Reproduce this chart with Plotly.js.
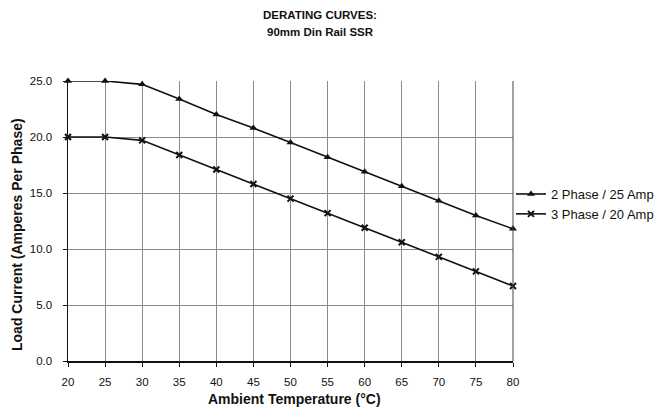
<!DOCTYPE html>
<html>
<head>
<meta charset="utf-8">
<script src="https://cdn.plot.ly/plotly-3.0.1.min.js"></script>
<style>html,body{margin:0;padding:0;background:#fff}#chart{width:672px;height:410px}</style>
</head>
<body>
<div id="chart"></div>
<script>
const temperatures = [20, 25, 30, 35, 40, 45, 50, 55, 60, 65, 70, 75, 80];
const phase2Amp25 = [25.0, 25.0, 24.7, 23.4, 22.0, 20.8, 19.5, 18.2, 16.9, 15.6, 14.3, 13.0, 11.8];
const phase3Amp20 = [20.0, 20.0, 19.7, 18.4, 17.1, 15.8, 14.5, 13.2, 11.9, 10.6, 9.3, 8.0, 6.7];
const seriesNames = ['2 Phase / 25 Amp', '3 Phase / 20 Amp'];
const yTicks = [0, 5, 10, 15, 20, 25];
const xTicks = [20, 25, 30, 35, 40, 45, 50, 55, 60, 65, 70, 75, 80];
const titleLines = ['DERATING CURVES:', '90mm Din Rail SSR'];
const xTitle = 'Ambient Temperature (°C)';
const yTitle = 'Load Current (Amperes Per Phase)';

const font = 'Liberation Sans, Arial, sans-serif';
const traces = [
  {x: temperatures, y: phase2Amp25, name: seriesNames[0], mode: 'lines+markers', cliponaxis: false,
   line: {color: '#111', width: 1.6}, marker: {symbol: 'triangle-up', size: 7, color: '#111'}},
  {x: temperatures, y: phase3Amp20, name: seriesNames[1], mode: 'lines+markers', cliponaxis: false,
   line: {color: '#111', width: 1.6}, marker: {symbol: 'x-thin', size: 6, color: '#111', line: {color: '#111', width: 2}}}
];
const annot = (text, x, y, size, angle) => ({
  text: '<b>' + text + '</b>', xref: 'paper', yref: 'paper', x: x, y: y,
  xanchor: 'center', yanchor: 'middle', showarrow: false, textangle: angle || 0,
  font: {family: font, size: size, color: '#111'}
});
const layout = {
  width: 672, height: 410,
  margin: {l: 68, r: 159, t: 81, b: 49, autoexpand: false},
  paper_bgcolor: '#fff', plot_bgcolor: '#fff',
  font: {family: font, color: '#111', size: 11},
  xaxis: {range: [20, 80], tickvals: xTicks, ticktext: xTicks.map(String), showgrid: true, gridcolor: '#8a8a8a', gridwidth: 1,
          zeroline: false, showline: true, linecolor: '#111', linewidth: 1.5,
          ticks: 'outside', ticklen: 4, tickcolor: '#111', ticklabelstandoff: 6,
          tickfont: {family: font, size: 11.5}},
  yaxis: {range: [0, 25], tickvals: yTicks, ticktext: yTicks.map(v => v.toFixed(1)), showgrid: true, gridcolor: '#8a8a8a', gridwidth: 1,
          zeroline: false, showline: true, linecolor: '#111', linewidth: 1.5,
          ticks: 'outside', ticklen: 4, tickcolor: '#111', ticklabelstandoff: 8,
          tickfont: {family: font, size: 11.5}},
  showlegend: true,
  legend: {xref: 'container', yref: 'container', x: 0.7604, xanchor: 'left', y: 0.5024, yanchor: 'middle',
           font: {family: font, size: 13},
           bgcolor: 'rgba(0,0,0,0)', tracegroupgap: 0, itemwidth: 30},
  annotations: [
    annot(titleLines[0], 0.5663, 1.2357, 11.5),
    annot(titleLines[1], 0.5663, 1.175, 11.5),
    annot(xTitle, 0.5101, -0.137, 14),
    annot(yTitle, -0.1146, 0.45, 14, -90)
  ],
  shapes: [{type: 'line', xref: 'paper', yref: 'paper', x0: 1, x1: 1, y0: 0, y1: 1, line: {color: '#444', width: 1}}]
};
Plotly.newPlot('chart', traces, layout, {displayModeBar: false, staticPlot: true});
</script>
</body>
</html>
